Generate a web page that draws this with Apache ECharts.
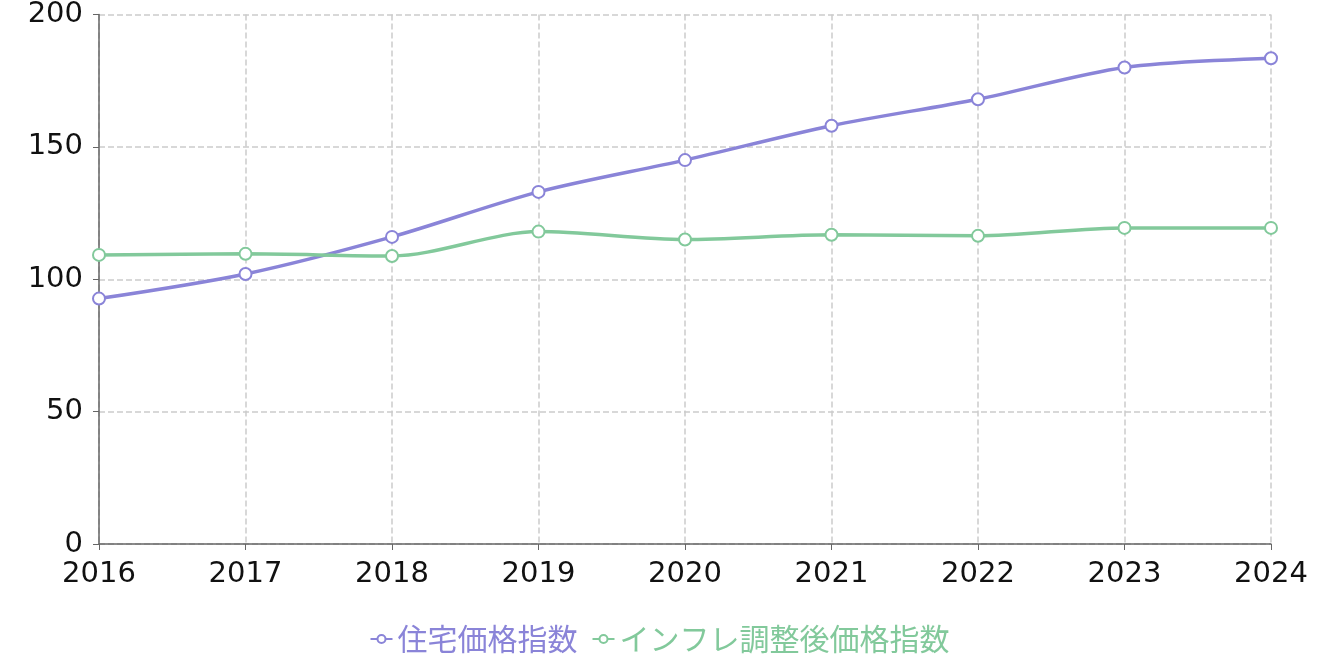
<!DOCTYPE html>
<html><head><meta charset="utf-8">
<script src="https://cdn.jsdelivr.net/npm/echarts@6/dist/echarts.min.js"></script>
<style>html,body{margin:0;padding:0;background:#fff}#c{width:1319px;height:667px}</style>
</head><body><div id="c"></div>
<script>
const years = ['2016','2017','2018','2019','2020','2021','2022','2023','2024'];
const housing = [92.7,102,116,133,145,158,168,180,183.5];
const adjusted = [109.2,109.6,108.8,118,115,116.8,116.4,119.4,119.4];
const seriesNames = ['住宅価格指数','インフレ調整後価格指数'];
const colors = ['#8a84d8','#82c99b'];
const chart = echarts.init(document.getElementById('c'));
const font = '"Noto Sans CJK JP", sans-serif';
const labelFont = '"DejaVu Sans", sans-serif';
chart.setOption({
  color: colors,
  textStyle:{fontFamily:font},
  grid:{left:99,right:48,top:13,bottom:123},
  legend:{bottom:8,left:'center',itemGap:14,itemWidth:22,itemHeight:10,
    textStyle:{fontSize:30,fontFamily:font},
    data:seriesNames.map((n,i)=>({name:n,textStyle:{color:colors[i]}}))},
  xAxis:{type:'category',data:years,boundaryGap:false,
    axisLine:{lineStyle:{color:'#666',width:1.5}},
    axisTick:{show:true,length:6,lineStyle:{color:'#666'}},
    axisLabel:{fontSize:29,color:'#111',margin:16,fontFamily:labelFont},
    splitLine:{show:true,lineStyle:{type:'dashed',color:'#ccc',width:1.5}}},
  yAxis:{type:'value',min:0,max:200,interval:50,
    axisLine:{show:true,lineStyle:{color:'#666',width:1.5}},
    axisTick:{show:true,length:6,lineStyle:{color:'#666'}},
    axisLabel:{fontSize:29,color:'#111',margin:16,fontFamily:labelFont},
    splitLine:{show:true,lineStyle:{type:'dashed',color:'#ccc',width:1.5}}},
  series:[
    {name:seriesNames[0],type:'line',smooth:0.3,data:housing,symbol:'emptyCircle',symbolSize:12,
     lineStyle:{width:3.5},itemStyle:{borderWidth:3.5}},
    {name:seriesNames[1],type:'line',smooth:0.3,data:adjusted,symbol:'emptyCircle',symbolSize:12,
     lineStyle:{width:3.5},itemStyle:{borderWidth:3.5}}
  ]
});
</script></body></html>
